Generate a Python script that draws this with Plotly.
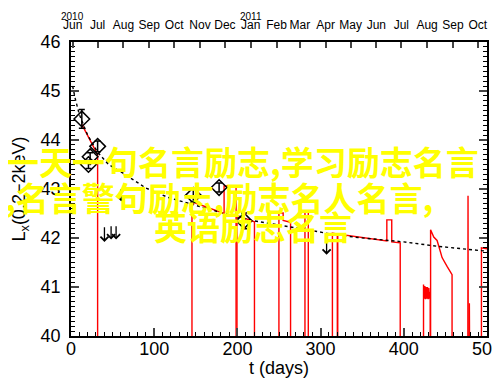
import plotly.graph_objects as go
import pandas as pd

# ---------------- data ----------------
# dotted power-law decay fit
fit_t = [2, 5, 10, 13, 20, 32, 45, 62, 90, 118, 150, 180, 217, 245, 293, 317, 345, 400, 441, 500]
fit_L = [45.10, 44.85, 44.52, 44.40, 44.10, 43.75, 43.50, 43.33, 43.02, 42.82, 42.66, 42.52,
         42.36, 42.28, 42.14, 42.07, 42.01, 41.92, 41.83, 41.73]

# detections (open diamonds with error bars)
det_t = [13, 21, 23, 32, 147, 178, 208]
det_L = [44.43, 43.50, 43.66, 43.87, 42.87, 43.03, 42.35]
det_err = [0.19, 0.08, 0.08, 0.11, 0.14, 0.09, 0.16]

# upper limits (down arrows)
ul_t = [40.2, 48.2, 54.2, 60.2, 307.2]
ul_top = [42.25, 42.27, 42.27, 43.02, 41.96]
ul_bot = [41.92, 41.97, 41.97, 42.75, 41.66]

# model light curve (red), None separates the pieces
red_t = [13, 32, 32, None,
         145.4, 145.4, 184, 184, 198.4, 198.4, None,
         199.5, 199.5, 220.5, 220.5, None,
         249.9, 249.9, 255, 255, 263.9, 263.9, None,
         281.2, 281.2, 285.2, 285.2, None,
         314.2, 314.2, 320.1, 320.1, None,
         320.6, 320.6, 379.6, 379.6, 385.5, 385.5, 395.7, 395.7, None,
         423.7, 423.7, 424.5, 425.3, 426.1, 426.9, 427.7, 428.5, 429.3, 430.1, 430.9, 431.8, 431.8, None,
         432.2, 432.2, 436, 440, 444, 446, 452, 456, 458, 458, None,
         477.0, 477.2, 477.4, None,
         478.8, 478.8, 479.0, None,
         493.3, 493.3, 500]
red_L = [44.32, 43.70, 40, None,
         40, 42.74, 42.50, 43.06, 43.06, 40, None,
         40, 42.46, 42.33, 40, None,
         40, 42.51, 42.51, 42.36, 42.32, 40, None,
         40, 42.55, 42.55, 40, None,
         40, 42.10, 42.08, 40, None,
         40, 42.08, 41.94, 42.37, 42.37, 41.92, 41.90, 40, None,
         40, 41.05, 40.76, 41.02, 40.75, 41.00, 40.76, 41.00, 40.75, 40.98, 40.76, 40.90, 40, None,
         40, 42.17, 42.02, 41.95, 41.72, 41.60, 41.42, 41.32, 41.25, 40, None,
         40, 42.86, 40, None,
         40, 40.67, 40, None,
         40, 41.80, 41.78]

x_range = [0, 500]
y_range = [40, 46]
start_date = pd.Timestamp("2010-05-30")
end_date = start_date + pd.Timedelta(days=500)
year_labels = [("2010", "2010-06-01"), ("2011", "2011-01-01")]

overlay_lines = [
    ("一天一句名言励志,学习励志名言", -4, 153),
    (",名言警句励志,励志名人名言,", -5, 189),
    ("英语励志名言", 144, 218),
]

# ---------------- figure ----------------
FONT = "Liberation Sans, Arial, sans-serif"
L, R, T, B = 63, 21, 34, 57
W, H = 500, 385
pw, ph = W - L - R, H - T - B

fig = go.Figure()

fig.add_trace(go.Scatter(x=red_t, y=red_L, mode="lines", connectgaps=False,
                         line=dict(color="#ff0000", width=1.4), showlegend=False, hoverinfo="skip"))
fig.add_trace(go.Scatter(x=fit_t, y=fit_L, mode="lines",
                         line=dict(color="black", width=1.4, dash="dot"), showlegend=False, hoverinfo="skip"))
fig.add_trace(go.Scatter(x=det_t, y=det_L, mode="markers",
                         marker=dict(symbol="diamond-open", size=12, color="black", line=dict(width=1.5)),
                         error_y=dict(type="data", array=det_err, color="black", thickness=1.5, width=3),
                         showlegend=False))
# invisible trace to carry the top (calendar) axis
fig.add_trace(go.Scatter(x=[start_date, end_date], y=[40, 40], xaxis="x2", mode="markers",
                         marker=dict(opacity=0), showlegend=False, hoverinfo="skip"))

annotations = []
for t, top, bot in zip(ul_t, ul_top, ul_bot):
    annotations.append(dict(x=t, y=bot, ax=t, ay=top, xref="x", yref="y", axref="x", ayref="y",
                            text="", showarrow=True, arrowhead=4, arrowsize=1.2, arrowwidth=1.3,
                            arrowcolor="black"))
for txt, d in year_labels:
    annotations.append(dict(x=d, xref="x2", y=1, yref="paper", yanchor="middle", yshift=26,
                            text=txt, showarrow=False, font=dict(family=FONT, size=10, color="black")))
for txt, px, py in overlay_lines:
    annotations.append(dict(x=(px - L) / pw, xref="paper", xanchor="left",
                            y=(H - B - py) / ph, yref="paper", yanchor="middle",
                            text=txt, showarrow=False,
                            font=dict(family="Noto Sans CJK SC", size=33, color="#ffff00", weight="bold")))

fig.update_layout(
    width=W, height=H,
    margin=dict(l=L, r=R, t=T, b=B, autoexpand=False),
    paper_bgcolor="white", plot_bgcolor="white",
    font=dict(family=FONT, color="black"),
    xaxis=dict(range=x_range, dtick=100, tick0=0, ticks="inside", ticklen=8, tickwidth=1.5,
               showline=True, linecolor="black", linewidth=1.8, mirror=False,
               showgrid=False, zeroline=False, ticklabelstandoff=-5,
               minor=dict(dtick=10, ticks="inside", ticklen=4, tickwidth=1.2, tickcolor="black", showgrid=False),
               tickfont=dict(size=18), automargin=False,
               title=dict(text="t (days)", font=dict(size=18), standoff=2)),
    xaxis2=dict(type="date", overlaying="x", side="top", range=[start_date, end_date],
                dtick="M1", tick0="2010-06-01", tickformat="%b", ticks="inside", ticklen=6, tickwidth=1.5,
                showline=True, linecolor="black", linewidth=1.5, showgrid=False, zeroline=False,
                ticklabelstandoff=6,
                tickfont=dict(size=12), automargin=False),
    yaxis=dict(range=y_range, dtick=1, tick0=40, ticks="inside", ticklen=8, tickwidth=1.5,
               showline=True, linecolor="black", linewidth=1.8, mirror="ticks",
               showgrid=False, zeroline=False, ticklabelstandoff=5,
               minor=dict(dtick=0.1, ticks="inside", ticklen=4, tickwidth=1.2, tickcolor="black", showgrid=False),
               tickfont=dict(size=18), automargin=False,
               title=dict(text="L<sub>x</sub>(0.2−2keV)", font=dict(size=18), standoff=10)),
    annotations=annotations,
)

fig.write_html("out.html")
